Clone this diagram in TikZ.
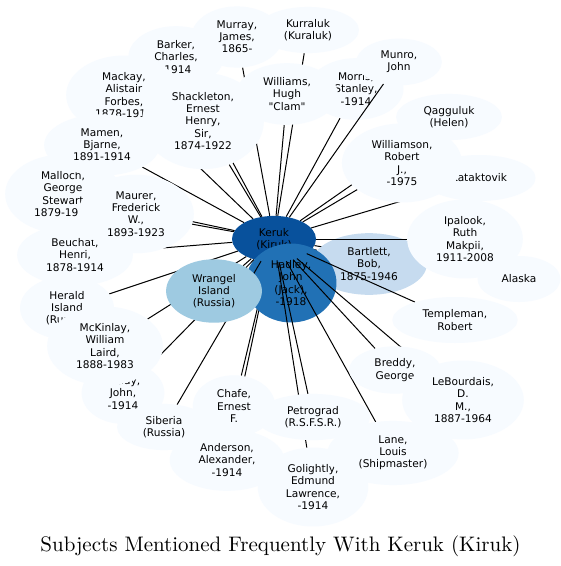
\documentclass[tikz,border=0pt]{standalone}
\usepackage{fontspec}
\newfontfamily\nodefont{DejaVu Sans}
\newfontfamily\titlefont[Extension=.otf]{lmroman10-regular}
\usetikzlibrary{shapes.geometric}
\pgfdeclarelayer{bgA}\pgfdeclarelayer{bgB}\pgfdeclarelayer{bgC}\pgfdeclarelayer{bgD}\pgfdeclarelayer{fg}
\pgfsetlayers{bgA,bgB,bgC,bgD,main,fg}
\definecolor{kcol}{HTML}{08519C}
\definecolor{hcol}{HTML}{2171B5}
\definecolor{wcol}{HTML}{9ECAE1}
\definecolor{bcol}{HTML}{C6DBEF}
\definecolor{pale}{HTML}{F7FBFF}
\tikzset{
  subj/.style={ellipse, fill=pale, align=center, inner xsep=12pt, inner ysep=5.5pt,
    minimum height=46pt, font=\nodefont\fontsize{10.6}{12.2}\selectfont, text=black},
  link/.style={draw=black, line width=1pt},
}
\begin{document}
\begin{tikzpicture}[x=1pt,y=-1pt]
\useasboundingbox (0,0) rectangle (561,566);
\begin{pgfonlayer}{bgA}
\fill[white] (0,0) rectangle (561,566);
\node[subj, fill=kcol] (keruk) at (274,239) {Keruk\\(Kiruk)};
\end{pgfonlayer}
\begin{pgfonlayer}{bgC}
\node[subj, fill=bcol] (bartlett) at (369,264) {Bartlett,\\Bob,\\1875-1946};
\node[subj, fill=hcol] (hadley) at (291,283) {Hadley,\\John\\(Jack),\\-1918};
\end{pgfonlayer}
% pale nodes, bottom to top
\node[subj] (kurraluk) at (308,30) {Kurraluk\\(Kuraluk)};
\node[subj] (murray) at (237,37) {Murray,\\James,\\1865-};
\node[subj] (barker) at (176,57) {Barker,\\Charles,\\-1914};
\node[subj] (mackay) at (124,95) {Mackay,\\Alistair\\Forbes,\\1878-1914};
\node[subj] (morris) at (356,89) {Morris,\\Stanley,\\-1914};
\node[subj] (williams) at (287,94) {Williams,\\Hugh\\"Clam"};
\node[subj] (shackleton) at (203,121) {Shackleton,\\Ernest\\Henry,\\Sir,\\1874-1922};
\node[subj] (malloch) at (63,194) {Malloch,\\George\\Stewart\\1879-1914};
\node[subj] (beuchat) at (75,255) {Beuchat,\\Henri,\\1878-1914};
\node[subj] (mamen) at (102,145) {Mamen,\\Bjarne,\\1891-1914};
\node[subj] (maurer) at (136,214) {Maurer,\\Frederick\\W.,\\1893-1923};
\node[subj] (herald) at (67,308) {Herald\\Island\\(Russia)};
\node[subj] (brady) at (123,393) {Brady,\\John,\\-1914};
\node[subj] (mckinlay) at (105,346) {McKinlay,\\William\\Laird,\\1888-1983};
\node[subj] (siberia) at (164,427) {Siberia\\(Russia)};
\node[subj, fill=wcol] (wrangel) at (214,291) {Wrangel\\Island\\(Russia)};
\node[subj] (anderson) at (227,460) {Anderson,\\Alexander,\\-1914};
\node[subj] (chafe) at (234,406) {Chafe,\\Ernest\\F.};
\node[subj] (golightly) at (313,487) {Golightly,\\Edmund\\Lawrence,\\-1914};
\node[subj] (petrograd) at (313,417) {Petrograd\\(R.S.F.S.R.)};
\node[subj] (lane) at (393,453) {Lane,\\Louis\\(Shipmaster)};
\node[subj] (breddy) at (395,370) {Breddy,\\George};
\node[subj] (lebourdais) at (463,400) {LeBourdais,\\D.\\M.,\\1887-1964};
\node[subj] (templeman) at (455,320) {Templeman,\\Robert};
\node[subj] (alaska) at (519,279) {Alaska};
\node[subj] (ipalook) at (465,239) {Ipalook,\\Ruth\\Makpii,\\1911-2008};
\node[subj] (kataktovik) at (479,178) {Kataktovik};
\node[subj] (qagguluk) at (449,117) {Qagguluk\\(Helen)};
\node[subj] (williamson) at (402,163) {Williamson,\\Robert\\J.,\\-1975};
\node[subj] (munro) at (399,62) {Munro,\\John};
% title
\node[font=\titlefont\fontsize{21}{25}\selectfont, anchor=base, inner sep=0pt] (title) at (280.5,551) {Subjects Mentioned Frequently With Keruk (Kiruk)};
% edges
\begin{pgfonlayer}{bgB}
\foreach \t in {hadley,bartlett,wrangel,chafe,anderson,alaska}
  \draw[link] (keruk) -- (\t);
\end{pgfonlayer}
\begin{pgfonlayer}{bgD}
\foreach \t in {kurraluk,murray,barker,mackay,williams,shackleton,malloch,beuchat,mamen,maurer,herald,brady,mckinlay,siberia,golightly,petrograd,lane,breddy,lebourdais,templeman,ipalook,kataktovik,qagguluk,williamson,morris}
  \draw[link] (keruk) -- (\t);
\end{pgfonlayer}
\begin{pgfonlayer}{fg}
\draw[link] (keruk) -- (munro);
\end{pgfonlayer}
\end{tikzpicture}
\end{document}
